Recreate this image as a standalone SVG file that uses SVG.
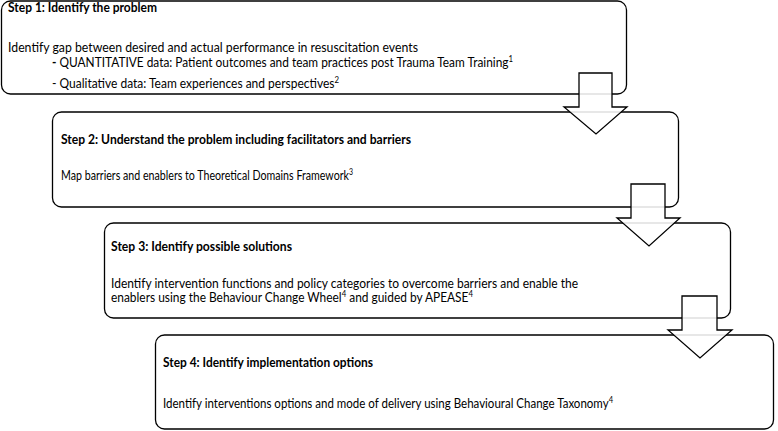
<svg xmlns="http://www.w3.org/2000/svg" width="778" height="431" viewBox="0 0 778 431">
<style>
.box{fill:#fff;stroke:#000;stroke-width:1.3}
.arrow{fill:#fff;fill-opacity:0.88;stroke:#000;stroke-width:1.3;stroke-linejoin:miter}
text{font-family:Lato,"Liberation Sans",sans-serif;font-size:13px;fill:#000}
.b{font-weight:bold}
.sup{font-size:8.5px}
</style>
<rect width="778" height="431" fill="#fff"/>
<g id="step1">
<rect class="box" x="1.5" y="1" width="625" height="93" rx="9"/>
<text class="b" x="8" y="12" textLength="149" lengthAdjust="spacingAndGlyphs">Step 1: Identify the problem</text>
<text x="8" y="52" textLength="410" lengthAdjust="spacingAndGlyphs">Identify gap between desired and actual performance in resuscitation events</text>
<text x="52" y="67" textLength="461" lengthAdjust="spacingAndGlyphs"><tspan class="b">-</tspan> QUANTITATIVE data: Patient outcomes and team practices post Trauma Team Training<tspan class="sup" baseline-shift="super">1</tspan></text>
<text x="52" y="88" textLength="287" lengthAdjust="spacingAndGlyphs">- Qualitative data: Team experiences and perspectives<tspan class="sup" baseline-shift="super">2</tspan></text>
</g>
<g id="step2">
<rect class="box" x="52.5" y="112" width="626" height="95" rx="9"/>
<text class="b" x="61" y="144" textLength="350" lengthAdjust="spacingAndGlyphs">Step 2: Understand the problem including facilitators and barriers</text>
<text x="61" y="180" textLength="292" lengthAdjust="spacingAndGlyphs">Map barriers and enablers to Theoretical Domains Framework<tspan class="sup" baseline-shift="super">3</tspan></text>
</g>
<g id="step3">
<rect class="box" x="104.5" y="223" width="626" height="95" rx="9"/>
<text class="b" x="111" y="251" textLength="181" lengthAdjust="spacingAndGlyphs">Step 3: Identify possible solutions</text>
<text x="111" y="288" textLength="467" lengthAdjust="spacingAndGlyphs">Identify intervention functions and policy categories to overcome barriers and enable the</text>
<text x="111" y="302" textLength="362" lengthAdjust="spacingAndGlyphs">enablers using the Behaviour Change Wheel<tspan class="sup" baseline-shift="super">4</tspan> and guided by APEASE<tspan class="sup" baseline-shift="super">4</tspan></text>
</g>
<g id="step4">
<rect class="box" x="155.5" y="335" width="618" height="94" rx="9"/>
<text class="b" x="163" y="367" textLength="210" lengthAdjust="spacingAndGlyphs">Step 4: Identify implementation options</text>
<text x="163" y="408" textLength="450" lengthAdjust="spacingAndGlyphs">Identify interventions options and mode of delivery using Behavioural Change Taxonomy<tspan class="sup" baseline-shift="super">4</tspan></text>
</g>
<g id="connectors">
<polygon class="arrow" points="579,73 612,73 612,107 627,107 596,134 564,107 579,107"/>
<polygon class="arrow" points="631,184 665,184 665,218 680,218 649,246 617,218 631,218"/>
<polygon class="arrow" points="682,296 717,296 717,330 732,330 700,358 668,330 682,330"/>
</g>
</svg>
